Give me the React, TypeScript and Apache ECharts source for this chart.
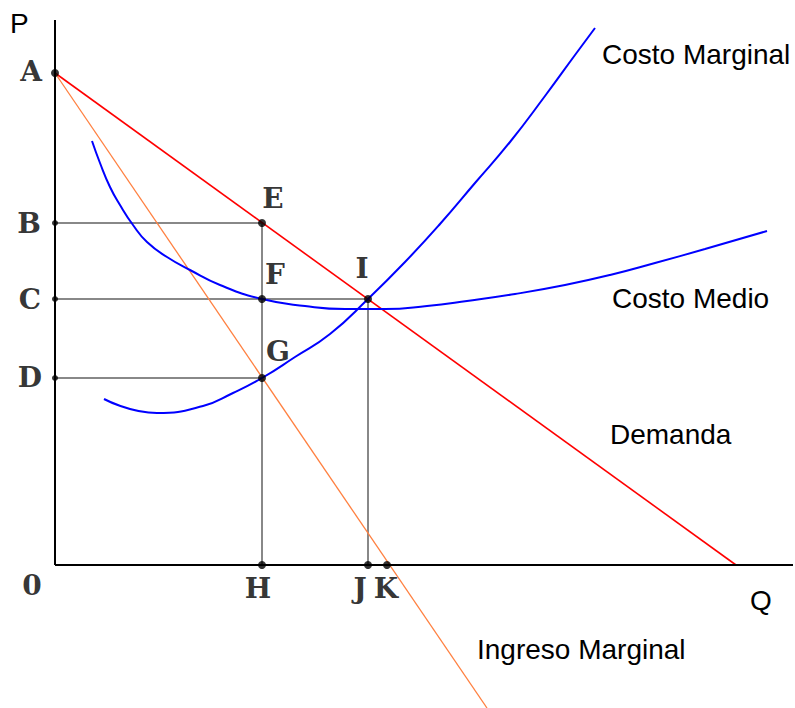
import React, { useEffect, useRef } from "react";
import * as echarts from "echarts";

// Axis extents (Q horizontal, P vertical)
const qAxisMax = 73.8;
const pAxisMax = 54.5;
const pAxisMin = -14.3;

// Key points of the diagram [Q, P]
const pointNames = ["A", "B", "C", "D", "E", "F", "G", "H", "I", "J", "K"];
const pointCoords: [number, number][] = [
  [0, 49.2],
  [0, 34.2],
  [0, 26.6],
  [0, 18.7],
  [20.7, 34.2],
  [20.7, 26.6],
  [20.7, 18.7],
  [20.7, 0],
  [31.3, 26.6],
  [31.3, 0],
  [33.2, 0],
];
const originLabel = "0";

// Straight lines
const demandLine: [number, number][] = [
  [0, 49.2],
  [68.1, 0],
];
const marginalRevenueLine: [number, number][] = [
  [0, 49.2],
  [43.2, -14.3],
];

// Guide lines (polylines B-E-H, C-I-J, D-G)
const guideLines: [number, number][][] = [
  [[0, 34.2], [20.7, 34.2], [20.7, 0]],
  [[0, 26.6], [31.3, 26.6], [31.3, 0]],
  [[0, 18.7], [20.7, 18.7]],
];

// Costo Marginal curve
const marginalCost: [number, number][] = [
  [4.9, 16.6], [10.2, 15.2], [14.8, 15.9], [17.8, 17.2],
  [20.7, 18.7], [24.0, 20.8], [27.5, 23.1], [31.3, 26.6],
  [35.0, 30.3], [38.5, 34.1], [42.0, 38.2], [45.5, 42.3],
  [49.0, 46.9], [52.0, 51.0], [54.0, 53.7],
];

// Costo Medio curve
const averageCost: [number, number][] = [
  [3.7, 42.4], [4.5, 40.2], [5.5, 37.8], [6.5, 36.0], [7.8, 34.0],
  [9.2, 32.3], [11.2, 30.8], [13.5, 29.5], [16.5, 28.0], [20.7, 26.6],
  [25.0, 25.9], [29.0, 25.6], [33.0, 25.6], [37.2, 25.9],
  [41.2, 26.4], [46.0, 27.1], [51.0, 28.0], [55.5, 29.0],
  [60.0, 30.2], [65.0, 31.6], [71.2, 33.4],
];

// Curve/axis captions
const captions = ["Costo Marginal", "Costo Medio", "Demanda", "Ingreso Marginal", "P", "Q"];

// Label offsets in pixels (style, not data)
const letterOffsets: Record<string, [number, number]> = {
  A: [-24, -2],
  B: [-26, 0],
  C: [-25, 0],
  D: [-25, -1],
  E: [11, -25],
  F: [13, -25],
  G: [16, -27],
  H: [-4, 23],
  I: [-6, -31],
  J: [-8, 23],
  K: [-1, 23],
  "0": [-23, 20],
};
const captionPos: Record<string, [number, number]> = {
  "Costo Marginal": [602, 54],
  "Costo Medio": [612, 298],
  Demanda: [610, 434],
  "Ingreso Marginal": [477, 649],
  P: [10, 23],
  Q: [750, 600],
};

export default function App() {
  const ref = useRef<HTMLDivElement>(null);
  useEffect(() => {
    if (!ref.current) return;
    const chart = echarts.init(ref.current, null, { renderer: "svg" });
    const serifBold = {
      fontFamily: "DejaVu Serif",
      fontWeight: "bold" as const,
      fontSize: 28,
      color: "#000",
      textBorderWidth: 0,
    };
    const letterData = [
      ...pointNames.map((n, i) => ({
        value: pointCoords[i],
        name: n,
        label: { offset: letterOffsets[n] },
      })),
      { value: [0, 0], name: originLabel, label: { offset: letterOffsets[originLabel] } },
    ];
    const dotData = pointNames.map((n, i) => ({
      value: pointCoords[i],
      name: n,
      symbolSize: pointCoords[i][0] === 0 && n !== "A" ? 6 : 8,
    }));

    chart.setOption({
      animation: false,
      backgroundColor: "#fff",
      grid: { left: 55, right: 2, top: 20, bottom: 0 },
      xAxis: {
        type: "value",
        min: 0,
        max: qAxisMax,
        show: false,
      },
      yAxis: {
        type: "value",
        min: pAxisMin,
        max: pAxisMax,
        show: false,
      },
      graphic: captions.map((c) => ({
        type: "text",
        x: captionPos[c][0],
        y: captionPos[c][1],
        style: {
          text: c,
          font: "28px 'Liberation Sans', Arial, sans-serif",
          fill: "#000",
          textAlign: "left",
          textVerticalAlign: "middle",
        },
        z: 10,
      })),
      series: [
        {
          type: "lines",
          coordinateSystem: "cartesian2d",
          polyline: true,
          silent: true,
          lineStyle: { color: "#888", width: 2, opacity: 1 },
          data: guideLines.map((g) => ({ coords: g })),
          z: 1,
        },
        {
          type: "line",
          data: demandLine,
          symbol: "none",
          lineStyle: { color: "#ff0000", width: 1.6 },
          z: 3,
        },
        {
          type: "line",
          data: marginalRevenueLine,
          symbol: "none",
          lineStyle: { color: "#ff8040", width: 1.3 },
          z: 3,
        },
        {
          type: "line",
          data: averageCost,
          smooth: 0.5,
          symbol: "none",
          lineStyle: { color: "#0000ff", width: 2 },
          z: 4,
        },
        {
          type: "line",
          data: marginalCost,
          smooth: 0.5,
          symbol: "none",
          lineStyle: { color: "#0000ff", width: 2 },
          z: 4,
        },
        {
          type: "line",
          data: [
            [0, 0],
            [qAxisMax, 0],
          ],
          symbol: "none",
          lineStyle: { color: "#000", width: 2 },
          z: 5,
        },
        {
          type: "line",
          data: [
            [0, 0],
            [0, pAxisMax],
          ],
          symbol: "none",
          lineStyle: { color: "#000", width: 2 },
          z: 5,
        },
        {
          type: "scatter",
          data: dotData,
          symbol: "circle",
          itemStyle: { color: "#000" },
          z: 6,
        },
        {
          type: "scatter",
          data: letterData,
          symbolSize: 0,
          label: {
            show: true,
            position: "inside",
            formatter: (p: any) => p.name,
            ...serifBold,
          },
          z: 7,
        },
      ],
    });
    return () => chart.dispose();
  }, []);
  return (
    <div
      ref={ref}
      style={{ position: "fixed", left: 0, top: 0, width: 795, height: 708, background: "#fff" }}
    />
  );
}
